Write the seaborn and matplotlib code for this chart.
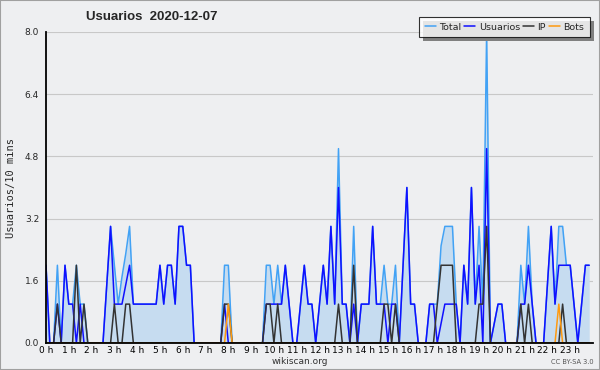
import numpy as np
import pandas as pd
import matplotlib
matplotlib.use("Agg")
import matplotlib.pyplot as plt
from matplotlib.lines import Line2D
from matplotlib.patches import Rectangle
from matplotlib.ticker import MultipleLocator, FixedLocator, FormatStrFormatter
import seaborn as sns

# ---- data (10-minute slots over the day) ----
usuarios = [2, 0, 0, 1, 0, 2, 1, 1, 0, 1, 0, 0,
            0, 0, 0, 0, 1.5, 3, 1, 1, 1, 1.5, 2, 1,
            1, 1, 1, 1, 1, 1, 2, 1, 2, 2, 1, 3,
            3, 2, 2, 0, 0, 0, 0, 0, 0, 0, 0, 1,
            0, 0, 0, 0, 0, 0, 0, 0, 0, 0, 1, 1,
            1, 1, 1, 2, 1, 0, 0, 1, 2, 1, 1, 0,
            1, 2, 1, 3, 1, 4, 1, 1, 0, 1, 0, 1,
            1, 1, 3, 1, 1, 1, 0, 1, 1, 0, 2, 4,
            1, 1, 0, 0, 0, 1, 1, 0, 0.5, 1, 1, 1,
            1, 0, 2, 1, 4, 1, 2, 0, 5, 0, 0.5, 1,
            1, 0, 0, 0, 0, 1, 1, 2, 1, 0, 0, 0,
            1.5, 3, 1, 2, 2, 2, 2, 1, 0, 1, 2, 2]

ip = [0, 0, 0, 1, 0, 0, 0, 0, 2, 0, 1, 0,
      0, 0, 0, 0, 0, 0, 1, 0, 0, 1, 1, 0,
      0, 0, 0, 0, 0, 0, 0, 0, 0, 0, 0, 0,
      0, 0, 0, 0, 0, 0, 0, 0, 0, 0, 0, 1,
      1, 0, 0, 0, 0, 0, 0, 0, 0, 0, 1, 1,
      0, 1, 0, 0, 0, 0, 0, 0, 0, 0, 0, 0,
      0, 0, 0, 0, 0, 1, 0, 0, 0, 2, 0, 0,
      0, 0, 0, 0, 0, 1, 1, 0, 1, 0, 0, 0,
      0, 0, 0, 0, 0, 0, 0, 1, 2, 2, 2, 2,
      0, 0, 0, 0, 0, 0, 1, 1, 3, 0, 0, 0,
      0, 0, 0, 0, 0, 1, 0, 1, 0, 0, 0, 0,
      0, 0, 0, 0, 1, 0, 0, 0, 0, 0, 0, 0]

bots = [0, 0, 0, 0, 0, 0, 0, 0, 0, 0, 0, 0,
        0, 0, 0, 0, 0, 0, 0, 0, 0, 0, 0, 0,
        0, 0, 0, 0, 0, 0, 0, 0, 0, 0, 0, 0,
        0, 0, 0, 0, 0, 0, 0, 0, 0, 0, 0, 0,
        1, 0, 0, 0, 0, 0, 0, 0, 0, 0, 0, 0,
        0, 0, 0, 0, 0, 0, 0, 0, 0, 0, 0, 0,
        0, 0, 0, 0, 0, 0, 0, 0, 0, 0, 0, 0,
        0, 0, 0, 0, 0, 0, 0, 0, 0, 0, 0, 0,
        0, 0, 0, 0, 0, 0, 0, 0, 0, 0, 0, 0,
        0, 0, 0, 0, 0, 0, 0, 0, 0, 0, 0, 0,
        0, 0, 0, 0, 0, 0, 0, 0, 0, 0, 0, 0,
        0, 0, 0, 1, 0, 0, 0, 0, 0, 0, 0, 0]

total = [2, 0, 0, 2, 0, 2, 1, 1, 2, 1, 1, 0,
         0, 0, 0, 0, 1.5, 3, 2, 1, 1.7, 2.3, 3, 1,
         1, 1, 1, 1, 1, 1, 2, 1, 2, 2, 1, 3,
         3, 2, 2, 0, 0, 0, 0, 0, 0, 0, 0, 2,
         2, 0, 0, 0, 0, 0, 0, 0, 0, 0, 2, 2,
         1, 2, 1, 2, 1, 0, 0, 1, 2, 1, 1, 0,
         1, 2, 1, 3, 1, 5, 1, 1, 0, 3, 0, 1,
         1, 1, 3, 1, 1, 2, 1, 1, 2, 0, 2, 4,
         1, 1, 0, 0, 0, 1, 1, 1, 2.5, 3, 3, 3,
         1, 0, 2, 1, 4, 1, 3, 1, 8, 0, 0.5, 1,
         1, 0, 0, 0, 0, 2, 1, 3, 1, 0, 0, 0,
         1.5, 3, 1, 3, 3, 2, 2, 1, 0, 1, 2, 2]

hour_labels = [f"{h} h" for h in range(24)]
series_names = ["Total", "Usuarios", "IP", "Bots"]
series_colors = ["#42a2f5", "#1010ff", "#333333", "#ff9a10"]

slot_hours = np.arange(len(total)) / 6.0

df = pd.DataFrame({"hora": np.tile(slot_hours, 4),
                   "valor": total + usuarios + ip + bots,
                   "serie": np.repeat(series_names, len(total))})

# ---- figure ----
BG = "#eeeff1"
sns.set_style("white")
plt.rcParams["font.family"] = ["DejaVu Sans"]
fig = plt.figure(figsize=(6, 3.7), dpi=100, facecolor=BG)
ax = fig.add_axes([46 / 600, 27 / 370, 547 / 600, 311 / 370])
ax.set_facecolor(BG)

ax.fill_between(slot_hours, 0, total, color="#c6dcf0", linewidth=0, zorder=1)
sns.lineplot(data=df, x="hora", y="valor", hue="serie", hue_order=series_names,
             palette=dict(zip(series_names, series_colors)), linewidth=1.1,
             legend=False, ax=ax, zorder=3)

ax.set_xlim(0, 24)
ax.set_ylim(0, 8)
ax.yaxis.set_major_locator(MultipleLocator(1.6))
ax.yaxis.set_minor_locator(MultipleLocator(0.4))
ax.yaxis.set_major_formatter(FormatStrFormatter("%.1f"))
ax.xaxis.set_major_locator(FixedLocator(range(24)))
ax.set_xticklabels(hour_labels)
ax.xaxis.set_minor_locator(MultipleLocator(1 / 6))

ax.tick_params(axis="x", which="both", direction="in", length=3, width=0.8,
               labelsize=6.5, pad=2, colors="black")
ax.tick_params(axis="x", which="major", length=4)
ax.tick_params(axis="y", which="major", direction="out", length=4, width=0.8,
               labelsize=6.5, pad=1)
ax.tick_params(axis="y", which="minor", direction="out", length=3, width=0.8)

ax.grid(axis="y", which="major", color="#c8c8c8", linewidth=0.8, zorder=0)
ax.set_axisbelow(True)
for s in ["top", "right"]:
    ax.spines[s].set_visible(False)
for s in ["left", "bottom"]:
    ax.spines[s].set_color("black")
    ax.spines[s].set_linewidth(1.3)
    ax.spines[s].set_zorder(6)

ax.set_xlabel("")
ax.set_ylabel("Usuarios/10 mins", family="DejaVu Sans Mono", fontsize=7.5, labelpad=6)

fig.text(152 / 600, 1 - 17 / 370, "Usuarios  2020-12-07", ha="center", va="center",
         fontsize=9.5, fontweight="bold", family="Liberation Sans")
fig.text(300 / 600, 1 - 361 / 370, "wikiscan.org", ha="center", va="center",
         fontsize=6.5, color="#333333")
fig.text(572 / 600, 1 - 362 / 370, "CC BY-SA 3.0", ha="center", va="center",
         fontsize=4.8, color="#555555")

handles = [Line2D([0], [0], color=c, lw=1.1) for c in series_colors]
leg = ax.legend(handles, series_names, ncol=4, loc="upper right",
                bbox_to_anchor=(590 / 600, 1 - 17 / 370), bbox_transform=fig.transFigure,
                fontsize=6.8, frameon=True, fancybox=False, shadow=False,
                handlelength=1.2, handletextpad=0.35, columnspacing=0.3,
                borderpad=0.6, borderaxespad=0)
leg.get_frame().set_facecolor("white")
leg.get_frame().set_edgecolor("black")
leg.get_frame().set_linewidth(0.8)
leg.set_zorder(10)
fig.canvas.draw()
bb = leg.get_window_extent().transformed(fig.transFigure.inverted())
ax.add_patch(Rectangle((bb.x0 + 4 / 600, bb.y0 - 4 / 370), bb.width, bb.height,
                       transform=fig.transFigure, facecolor="#808080",
                       edgecolor="none", zorder=9, clip_on=False))

fig.patches.append(Rectangle((0, 0), 1, 1, transform=fig.transFigure, fill=False,
                             edgecolor="#a0a0a0", linewidth=1.5))

fig.savefig("out.png", dpi=100, facecolor=BG)
